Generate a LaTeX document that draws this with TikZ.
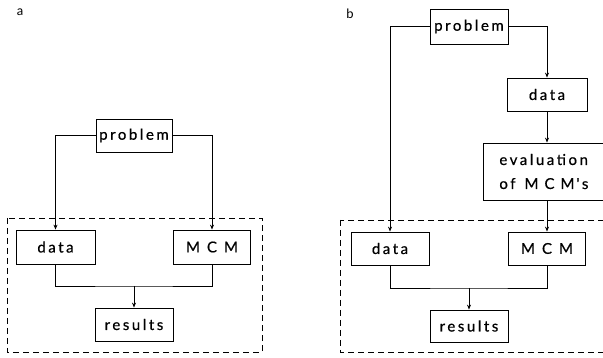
\documentclass[tikz,border=0pt]{standalone}
\usepackage{fontspec}
\usetikzlibrary{arrows.meta}
\newfontfamily\flowfont[LetterSpace=17, WordSpace=1.1, FakeBold=0.6]{Lato}
\newfontfamily\tagfont{Lato}
\newcommand\gap[1][6pt]{\hspace{#1}}

\begin{document}
\begin{tikzpicture}[
  x=1pt, y=-1pt,
  font=\flowfont\fontsize{15}{24}\selectfont,
  box/.style={draw, line width=0.8pt, inner sep=0pt, minimum height=33pt},
  link/.style={line width=0.8pt},
  arr/.style={link, -{Stealth[length=5pt, width=4pt]}},
  frame/.style={line width=0.8pt, dash pattern=on 6pt off 4pt},
  tag/.style={font=\tagfont\fontsize{13}{15}\selectfont, inner sep=0pt},
]
\useasboundingbox (0,0) rectangle (603,358);
\clip (0,0) rectangle (603,358);

% ---- panel a ----
\node[tag] (tagA) at (20,12) {a};
\node[box, minimum width=76pt] (probA) at (134,135.5) {problem};
\node[box, minimum width=79pt, minimum height=34pt] (dataA) at (55.5,247) {data};
\node[box, minimum width=77pt, minimum height=34pt] (mcmA) at (212,247) {M C M};
\node[box, minimum width=78pt] (resA) at (134,324.5) {results};
\draw[frame] (7,218) rectangle (262,352);

\draw[arr] (probA.west) -| (dataA.north);
\draw[arr] (probA.east) -| (mcmA.north);
\coordinate (jA) at (134,286);
\draw[link] (dataA.south) |- (jA) -| (mcmA.south);
\draw[arr] (jA) -- (resA.north);

% ---- panel b ----
\node[tag] (tagB) at (350,14) {b};
\node[box, minimum width=78pt, minimum height=35pt] (probB) at (469,26.5) {problem};
\node[box, minimum width=80pt] (dtopB) at (547,94.5) {data};
\node[box, anchor=west, text width=115pt, align=left, inner xsep=16pt,
      minimum height=57pt] (evalB) at (483,171.5)
      {evaluation\\of\gap[9pt]M\gap C\gap M\gap[2pt]'s};
\node[box, minimum width=78pt] (dataB) at (390,248.5) {data};
\node[box, minimum width=77pt] (mcmB) at (547,248.5) {M C M};
\node[box, minimum width=78pt, minimum height=32pt] (resB) at (469,326) {results};
\draw[frame] (340,220) rectangle (620,352);

\draw[arr] (probB.west) -| (dataB.north);
\draw[arr] (probB.east) -| (dtopB.north);
\draw[arr] (dtopB.south) -- (dtopB.south |- evalB.north);
\draw[arr] (mcmB.north |- evalB.south) -- (mcmB.north);
\coordinate (jB) at (469,288);
\draw[link] (dataB.south) |- (jB) -| (mcmB.south);
\draw[arr] (jB) -- (resB.north);

\end{tikzpicture}
\end{document}
